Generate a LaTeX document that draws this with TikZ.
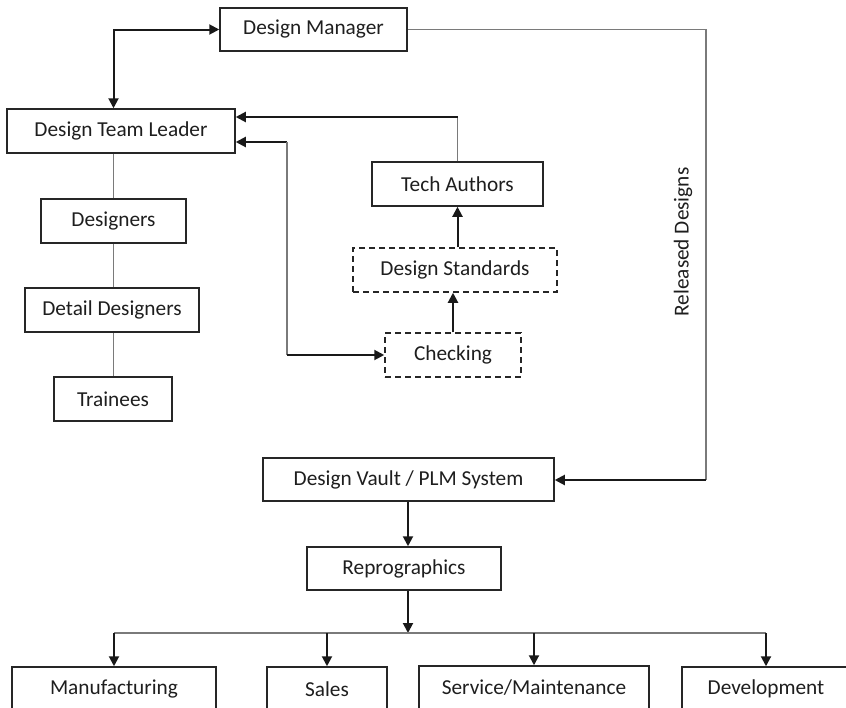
\documentclass[tikz,border=0pt]{standalone}
\usepackage{fontspec}
\setmainfont{Carlito}
\usetikzlibrary{arrows.meta}
\definecolor{boxc}{HTML}{262626}
\definecolor{thinc}{HTML}{7A7A7A}
\definecolor{txtc}{HTML}{1E1E1E}
\tikzset{
  box/.style={draw=boxc, line width=1.5pt, inner sep=0pt, minimum height=44pt, text=txtc, font=\fontsize{21.3}{25}\selectfont, anchor=center},
  dbox/.style={box, dash pattern=on 6pt off 4pt},
  thinline/.style={draw=thinc, line width=1.1pt},
  arr/.style={draw=black!90, line width=2pt, -{Triangle[length=10pt,width=10pt]}},
  darr/.style={draw=black!90, line width=2pt, {Triangle[length=10pt,width=10pt]}-{Triangle[length=10pt,width=10pt]}},
  lbl/.style={text=txtc, font=\fontsize{21.3}{25}\selectfont}
}
\begin{document}
\begin{tikzpicture}[x=1pt,y=-1pt]
\useasboundingbox (0,0) rectangle (846,707);
% nodes
\node[box, minimum width=187pt, minimum height=43pt] (dm) at (313.5,29.5) {Design Manager};
\node[box, minimum width=228pt] (dtl) at (121,131) {Design Team Leader};
\node[box, minimum width=145pt] (des) at (113.5,221) {Designers};
\node[box, minimum width=174pt] (det) at (112,310) {Detail Designers};
\node[box, minimum width=118pt] (tra) at (113,399) {Trainees};
\node[box, minimum width=171pt] (ta) at (457.5,184) {Tech Authors};
\node[dbox, minimum width=204pt] (ds) at (455,270) {Design Standards};
\node[dbox, minimum width=136pt] (chk) at (453,355) {Checking};
\node[box, minimum width=291pt, minimum height=43pt] (dv) at (408.5,479.5) {Design Vault / PLM System};
\node[box, minimum width=194pt, minimum height=43pt] (rep) at (404,568.5) {Reprographics};
\node[box, minimum width=204pt] (man) at (114,689) {Manufacturing};
\node[box, minimum width=120pt] (sal) at (327,689) {Sales};
\node[box, minimum width=230pt] (ser) at (534,688) {Service/Maintenance};
\node[box, minimum width=168pt] (dev) at (766,689) {Development};
\node[lbl, rotate=90] (rel) at (683,242) {Released Designs};
% coordinates
\coordinate (t1) at (458,117);
\coordinate (c1) at (287,142);
\coordinate (r1) at (706,480);
\coordinate (b) at (408,633);
% team tree
\draw[thinline] (dtl.south -| des.north) -- (des.north);
\draw[thinline] (des.south) -- (des.south |- det.north);
\draw[thinline] (des.south |- det.south) -- (des.south |- tra.north);
% manager <-> team leader
\draw[darr] (dm.west) -| (dtl.north -| des.north);
% tech authors -> team leader
\draw[thinline] (ta.north) -- (ta.north |- t1);
\draw[arr] (ta.north |- t1) -- (dtl.east |- t1);
% team leader <-> checking
\draw[arr] (c1) -- (dtl.east |- c1);
\draw[thinline] (c1) -- (c1 |- chk.west);
\draw[arr] (c1 |- chk.west) -- (chk.west);
% checking -> standards -> tech authors
\draw[arr] (chk.north) -- (chk.north |- ds.south);
\draw[arr] (ta.south |- ds.north) -- (ta.south);
% released designs
\draw[thinline] (dm.east) -- (dm.east -| r1) -- (r1);
\draw[arr] (r1) -- (dv.east |- r1);
% vault -> reprographics -> bus
\draw[arr] (dv.south -| b) -- (rep.north -| b);
\draw[arr] (rep.south -| b) -- (b);
\draw[thinline] (b -| man.north) -- (b -| dev.north);
\draw[arr] (b -| man.north) -- (man.north);
\draw[arr] (b -| sal.north) -- (sal.north);
\draw[arr] (b -| ser.north) -- (ser.north);
\draw[arr] (b -| dev.north) -- (dev.north);
\end{tikzpicture}
\end{document}
